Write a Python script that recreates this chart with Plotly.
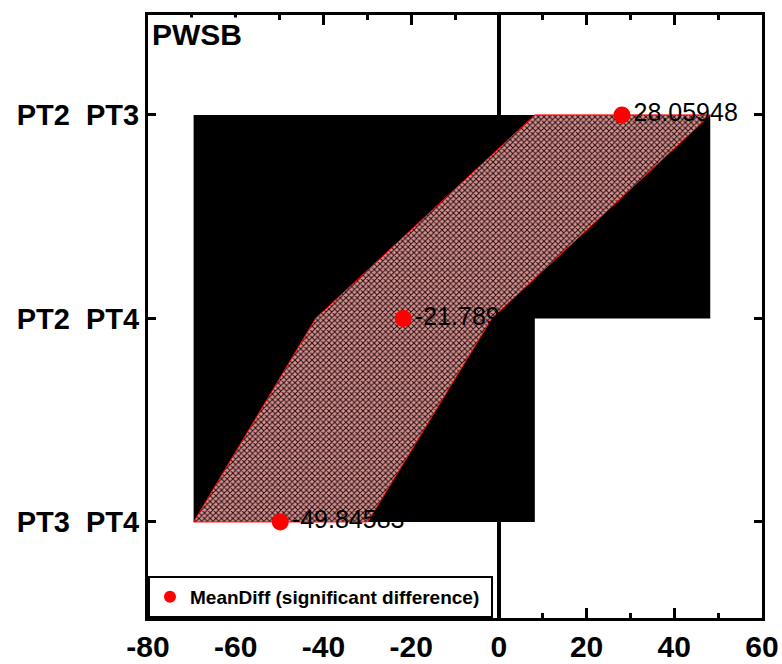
import plotly.graph_objects as go

# Pairwise comparisons (bottom to top) with mean differences and 95% CI limits
pairs = ["PT3\u00a0\u00a0PT4", "PT2\u00a0\u00a0PT4", "PT2\u00a0\u00a0PT3"]
mean_diff = [-49.84583, -21.78947, 28.05948]
ci_lower = [-69.6, -41.8, 8.2]
ci_upper = [-29.9, -1.6, 48.2]
x_ticks = [-80, -60, -40, -20, 0, 20, 40, 60]

ypos = list(range(len(pairs)))
FONT = "Arial, Liberation Sans, sans-serif"

fig = go.Figure()

# Solid backdrop spanning the interval bars
back_x = [ci_lower[0], ci_lower[0], ci_upper[2], ci_upper[2], ci_lower[2], ci_lower[2], ci_lower[0]]
back_y = [ypos[0], ypos[2], ypos[2], ypos[1], ypos[1], ypos[0], ypos[0]]
fig.add_trace(go.Scatter(
    x=back_x, y=back_y, mode="lines", fill="toself",
    fillcolor="black", line=dict(color="black", width=0),
    hoverinfo="skip", showlegend=False,
))

# Hatched confidence band joining lower and upper limits
band_x = ci_lower + ci_upper[::-1] + [ci_lower[0]]
band_y = ypos + ypos[::-1] + [ypos[0]]
fig.add_trace(go.Scatter(
    x=band_x, y=band_y, mode="lines", fill="toself",
    fillcolor="#a06868",
    fillpattern=dict(shape="x", fgcolor="#240c0c", bgcolor="#d89494",
                     size=4, solidity=0.45, fillmode="replace"),
    line=dict(color="red", width=1),
    hoverinfo="skip", showlegend=False,
))

# Mean differences with value labels
fig.add_trace(go.Scatter(
    x=mean_diff, y=ypos, mode="markers+text",
    marker=dict(color="red", size=17),
    text=[f"{v:.5f}" for v in mean_diff],
    textposition="middle right",
    textfont=dict(family=FONT, size=25, color="black"),
    name="MeanDiff (significant difference)",
    showlegend=True,
))

fig.update_xaxes(
    range=[-80, 60], tickvals=x_ticks, ticktext=[str(v) for v in x_ticks],
    showline=True, linecolor="black", linewidth=3, mirror="ticks",
    ticks="inside", ticklen=10, tickwidth=3, tickcolor="black",
    minor=dict(dtick=10, ticks="inside", ticklen=5, tickwidth=3, tickcolor="black"),
    showgrid=False, zeroline=True, zerolinecolor="black", zerolinewidth=4,
    tickfont=dict(family=FONT, size=30, color="black", weight="bold"),
    automargin=False,
)
fig.update_yaxes(
    range=[-0.472, 2.491], tickvals=ypos, ticktext=pairs,
    showline=True, linecolor="black", linewidth=3, mirror="ticks",
    ticks="inside", ticklen=8, tickwidth=3, tickcolor="black",
    showgrid=False, zeroline=False,
    tickfont=dict(family=FONT, size=29, color="black", weight="bold"),
    automargin=False,
)

fig.add_annotation(
    text="<b>PWSB</b>", xref="paper", yref="paper", x=0, y=1,
    xanchor="left", yanchor="top", xshift=3, yshift=-2, showarrow=False,
    bgcolor="white", borderpad=0,
    font=dict(family=FONT, size=30, color="black"),
)

fig.update_layout(
    width=782, height=664,
    margin=dict(l=148, r=20, t=15, b=46),
    plot_bgcolor="white", paper_bgcolor="white",
    legend=dict(
        orientation="h",
        x=0, y=0, xanchor="left", yanchor="bottom",
        bgcolor="white", bordercolor="black", borderwidth=2,
        font=dict(family=FONT, size=19, color="black", weight="bold"),
        itemsizing="constant", entrywidth=296,
    ),
)

fig.write_html("out.html")
